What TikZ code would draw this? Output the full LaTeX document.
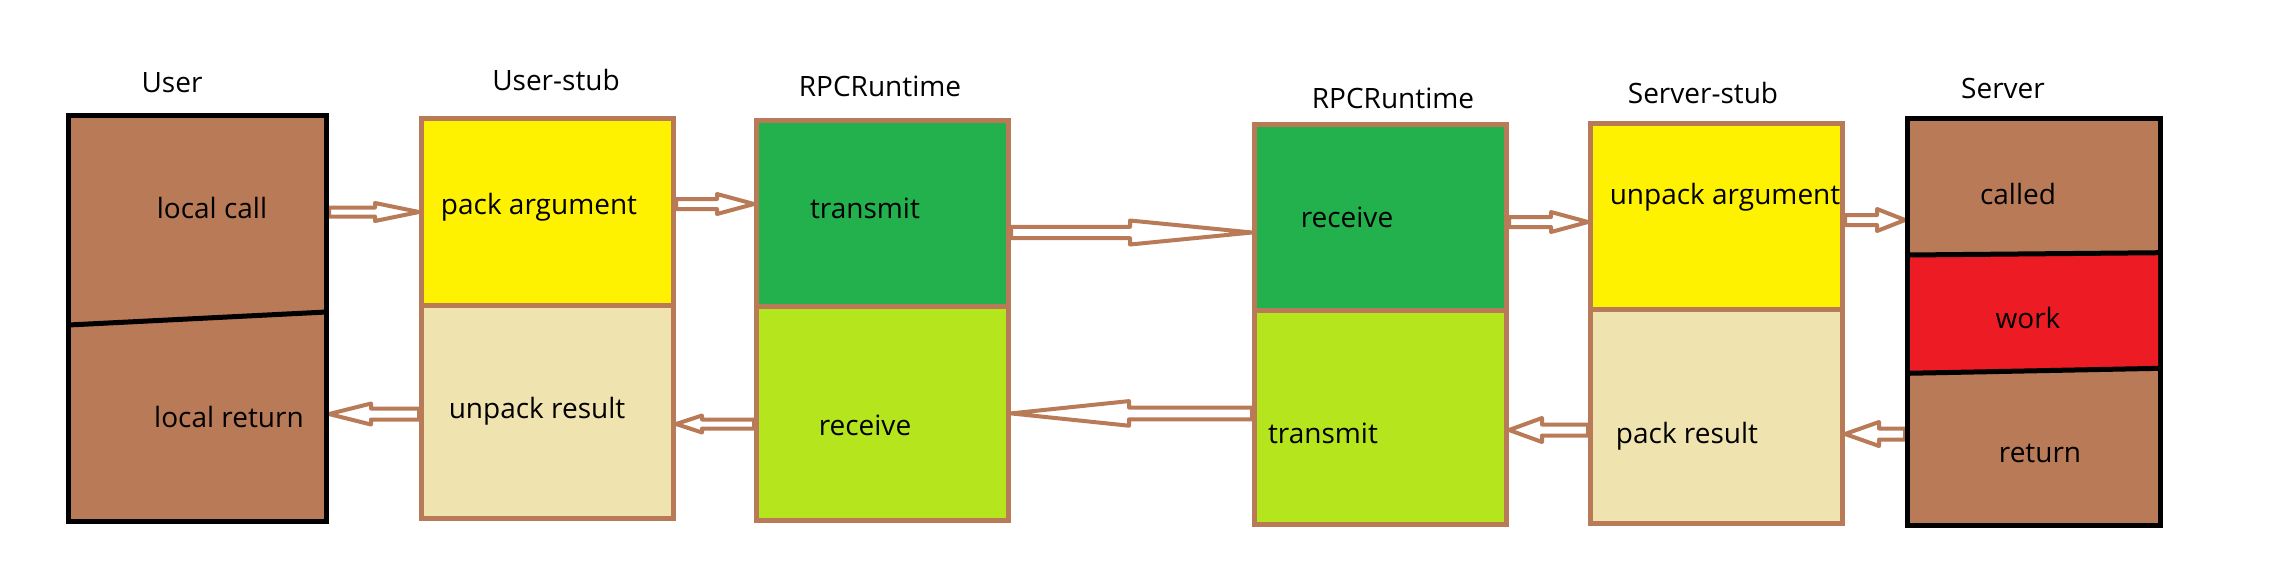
\documentclass[tikz,border=0pt]{standalone}
\usepackage{fontspec}
\setmainfont{Open Sans}
\usetikzlibrary{calc}
\definecolor{pbrown}{HTML}{B97A57}
\definecolor{pyellow}{HTML}{FFF200}
\definecolor{ptan}{HTML}{EFE4B0}
\definecolor{pgreen}{HTML}{22B14C}
\definecolor{plime}{HTML}{B5E61D}
\definecolor{pred}{HTML}{ED1C24}
\pgfdeclarelayer{paperlayer}
\pgfdeclarelayer{arrowlayer}
\pgfsetlayers{paperlayer,arrowlayer,main}
\begin{document}
\begin{tikzpicture}[x=1pt,y=-1pt,
  cell/.style={draw=pbrown, line width=5pt, inner sep=0pt, outer sep=2.5pt},
  blackcell/.style={cell, draw=black, fill=pbrown},
  txt/.style={anchor=base, inner sep=0pt, font=\fontsize{28}{34}\selectfont},
  ahl/.store in=\arrL, ahh/.store in=\arrH, asw/.store in=\arrW,
  hollow/.style={draw=pbrown, fill=white, line width=4pt, line join=round,
    to path={let \p1=(\tikztostart), \p2=(\tikztotarget), \n1={atan2(\y2-\y1,\x2-\x1)} in
      ($(\p1)+(\n1+90:\arrW)$) -- ($(\p2)+(\n1+180:\arrL)+(\n1+90:\arrW)$)
      -- ($(\p2)+(\n1+180:\arrL)+(\n1+90:\arrH)$) -- (\p2)
      -- ($(\p2)+(\n1+180:\arrL)+(\n1-90:\arrH)$) -- ($(\p2)+(\n1+180:\arrL)+(\n1-90:\arrW)$)
      -- ($(\p1)+(\n1-90:\arrW)$) -- cycle}}
]
\begin{pgfonlayer}{paperlayer}
\fill[white] (0,0) rectangle (2278,579);
\end{pgfonlayer}
\path[use as bounding box] (0,0) rectangle (2278,579);

% User
\node[blackcell, minimum width=258pt, minimum height=406pt] (user) at (197.5,318.5) {};
\draw[line width=5pt] (68.5,325) -- (326.5,312);
% User-stub
\node[cell, fill=pyellow, minimum width=252pt, minimum height=186.5pt] (ustubT) at (547.5,211.75) {};
\node[cell, fill=ptan, minimum width=252pt, minimum height=213.5pt] (ustubB) at (547.5,411.75) {};
% RPCRuntime 1
\node[cell, fill=pgreen, minimum width=252pt, minimum height=185.5pt] (rpc1T) at (882.5,213.25) {};
\node[cell, fill=plime, minimum width=252pt, minimum height=214.5pt] (rpc1B) at (882.5,413.25) {};
% RPCRuntime 2
\node[cell, fill=pgreen, minimum width=252pt, minimum height=185.5pt] (rpc2T) at (1380.5,217.25) {};
\node[cell, fill=plime, minimum width=252pt, minimum height=214.5pt] (rpc2B) at (1380.5,417.25) {};
% Server-stub
\node[cell, fill=pyellow, minimum width=252pt, minimum height=185.5pt] (sstubT) at (1716.5,216.25) {};
\node[cell, fill=ptan, minimum width=252pt, minimum height=214.5pt] (sstubB) at (1716.5,416.25) {};
% Server
\node[blackcell, minimum width=253pt, minimum height=407pt] (server) at (2034,322) {};
\fill[pred] (1910,255) -- (2158,252.7) -- (2158,368.3) -- (1910,373.3) -- cycle;
\draw[line width=5pt] (1907.5,255) -- (2160.5,252.7);
\draw[line width=5pt] (1907.5,373.3) -- (2160.5,368.3);

% titles
\node[txt] (tUser) at (172,92) {User};
\node[txt] (tUstub) at (556,90) {User-stub};
\node[txt] (tRpc1) at (880,96) {RPCRuntime};
\node[txt] (tRpc2) at (1393,108) {RPCRuntime};
\node[txt] (tSstub) at (1703,103) {Server-stub};
\node[txt] (tServer) at (2003,98) {Server};

% cell texts
\node[txt] (lcall) at (212,218) {local call};
\node[txt] (lret) at (229,427) {local return};
\node[txt] (parg) at (539,214) {pack argument};
\node[txt] (ures) at (537,418) {unpack result};
\node[txt] (tr1) at (865,218) {transmit};
\node[txt] (rc1) at (865,435) {receive};
\node[txt] (rc2) at (1347,227) {receive};
\node[txt] (tr2) at (1323,443) {transmit};
\node[txt] (uarg) at (1725,204) {unpack argument};
\node[txt] (pres) at (1687,443) {pack result};
\node[txt] (called) at (2018,204) {called};
\node[txt] (work) at (2028,328) {work};
\node[txt] (ret) at (2040,462) {return};

% arrows
\begin{pgfonlayer}{arrowlayer}
\draw[hollow, ahl=44pt, ahh=9pt, asw=4.5pt] (user.east |- 0,212) to (ustubT.west |- 0,212);
\draw[hollow, ahl=37pt, ahh=10pt, asw=5pt] (ustubT.east |- 0,204) to (rpc1T.west |- 0,204);
\draw[hollow, ahl=122pt, ahh=12pt, asw=5.7pt] (rpc1T.east |- 0,232.5) to (rpc2T.west |- 0,232.5);
\draw[hollow, ahl=37pt, ahh=10pt, asw=5pt] (rpc2T.east |- 0,222) to (sstubT.west |- 0,222);
\draw[hollow, ahl=28pt, ahh=11pt, asw=5pt] (sstubT.east |- 0,220) to (server.west |- 0,220);
\draw[hollow, ahl=34pt, ahh=12pt, asw=5.5pt] (server.west |- 0,434) to (sstubB.east |- 0,434);
\draw[hollow, ahl=33pt, ahh=12pt, asw=5.5pt] (sstubB.west |- 0,430) to (rpc2B.east |- 0,430);
\draw[hollow, ahl=118pt, ahh=12.3pt, asw=5.9pt] (rpc2B.west |- 0,413.4) to (rpc1B.east |- 0,413.4);
\draw[hollow, ahl=26pt, ahh=8.5pt, asw=4.5pt] (rpc1B.west |- 0,424) to (ustubB.east |- 0,424);
\draw[hollow, ahl=42pt, ahh=10.5pt, asw=5.5pt] (ustubB.west |- 0,414) to (user.east |- 0,414);
\end{pgfonlayer}
\end{tikzpicture}
\end{document}
